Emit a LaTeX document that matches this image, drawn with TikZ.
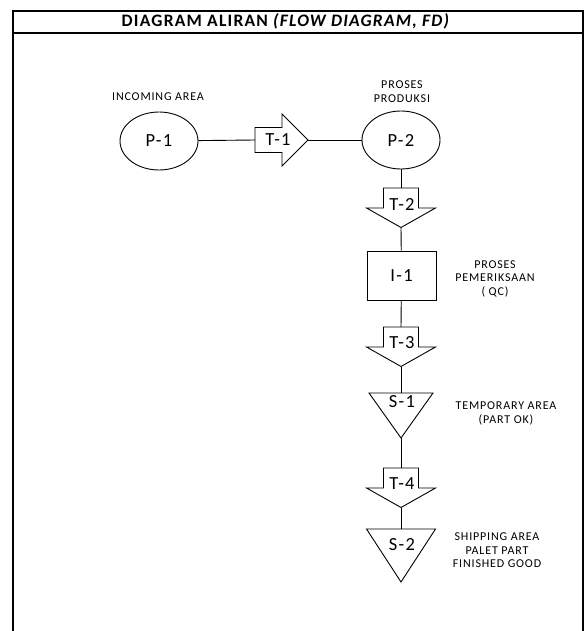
\documentclass[tikz,border=0pt]{standalone}
\usepackage{fontspec}
\setmainfont{Carlito}[LetterSpace=7]
\usetikzlibrary{shapes.geometric}
\tikzset{
	proc/.style={draw, ellipse, minimum width=78pt, minimum height=58pt, inner sep=0pt, font=\fontsize{18.5}{20}\selectfont},
	insp/.style={draw, rectangle, minimum width=69pt, minimum height=49pt, inner sep=0pt, font=\fontsize{18.5}{20}\selectfont},
	tag/.style={inner sep=0pt, font=\fontsize{18.5}{20}\selectfont},
	lbl/.style={align=center, inner sep=0pt, font=\fontsize{12}{13.5}\selectfont}
}

\begin{document}
\begin{tikzpicture}[x=1pt,y=-1pt,line width=0.9pt]
            \useasboundingbox (0,0) rectangle (586,631);
            % Frame and header
            \draw[line width=2.2pt] (13,632) -- (13,11) -- (583,11) -- (583,632);
            \draw[line width=1.8pt] (13,33) -- (583,33);
            \node[font=\bfseries\fontsize{17.5}{19}\selectfont] (title) at (286,21.5) {DIAGRAM ALIRAN \textit{(FLOW DIAGRAM, FD)}};
            % Operations
            \node[proc] (P1) at (159,141) {P-1};
            \node[proc] (P2) at (401,140) {P-2};
            % Transport T-1
            \coordinate (T1) at (255,140);
            \draw (T1) ++(0,-12.5) -- ++(27,0) -- ++(0,-13.5) -- ++(26,26) coordinate (T1tip) -- ++(-26,26) -- ++(0,-13.5) -- ++(-27,0) -- cycle;
            \node[tag] (T1txt) at (278,140) {T-1};
            % Transport T-2 .. T-4
            \foreach \n/\y in {2/188,3/327,4/468} {
                \coordinate (T\n) at (401,\y);
                \draw (T\n) ++(-17.5,0) -- ++(35,0) -- ++(0,20) -- ++(17,0) -- ++(-34.5,19.5) coordinate (T\n tip) -- ++(-34.5,-19.5) -- ++(17,0) -- cycle;
                \node[tag] (T\n txt) at (402,\y+16) {T-\n};
            }
            % Inspection
            \node[insp] (I1) at (401.5,275.5) {I-1};
            % Storage
            \foreach \n/\y/\w/\h/\t in {1/393/32/45/402,2/529/34.5/53/545} {
                \coordinate (S\n) at (401,\y);
                \draw (S\n) ++(-\w,0) -- ++(2*\w,0) -- ++(-\w,\h) coordinate (S\n tip) -- cycle;
                \node[tag] (S\n txt) at (402,\t) {S-\n};
            }
            % Flow lines
            \draw (P1) -- (T1);
            \draw (T1tip) -- (P2);
            \draw (P2) -- (T2);
            \draw (T2tip) -- (I1);
            \draw (I1) -- (T3);
            \draw (T3tip) -- (S1);
            \draw (S1tip) -- (T4);
            \draw (T4tip) -- (S2);
            % Labels
            \node[lbl] (P1lbl) at (158,97) {INCOMING AREA};
            \node[lbl] (P2lbl) at (402,91.5) {PROSES\\PRODUKSI};
            \node[lbl] (I1lbl) at (495,278.5) {PROSES\\PEMERIKSAAN\\( QC)};
            \node[lbl] (S1lbl) at (506,413.5) {TEMPORARY AREA\\(PART OK)};
            \node[lbl] (S2lbl) at (497,550.5) {SHIPPING AREA\\PALET PART\\FINISHED GOOD};
        \end{tikzpicture}
\end{document}
